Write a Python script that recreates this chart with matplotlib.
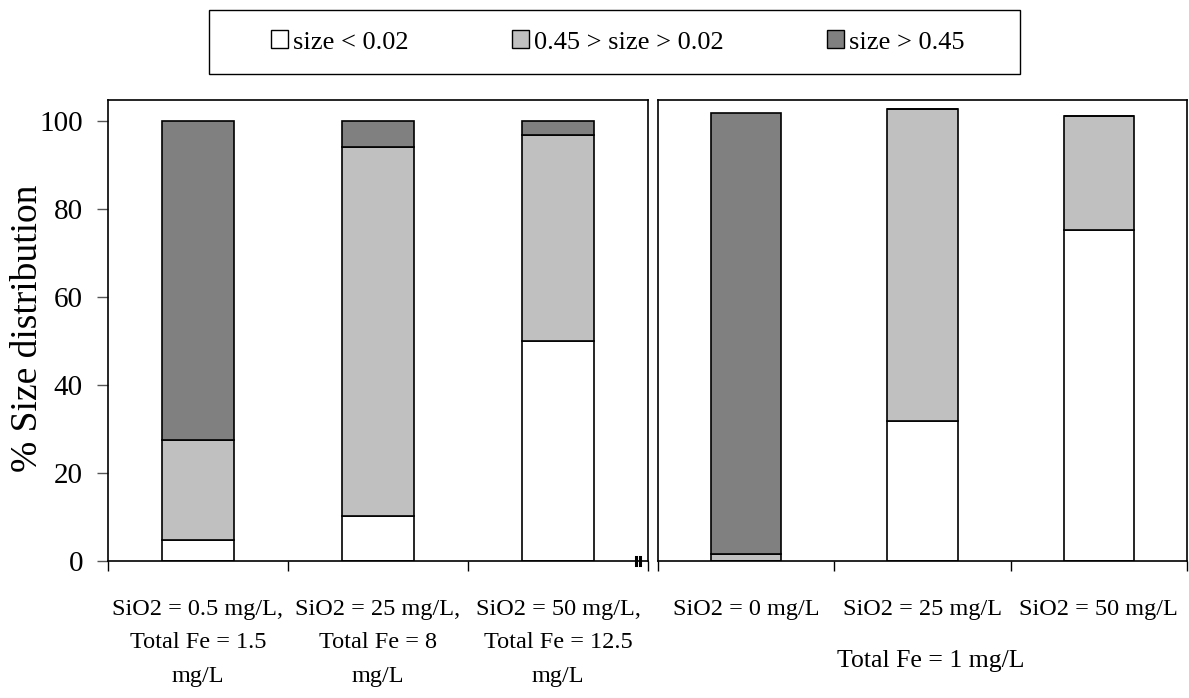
import matplotlib
matplotlib.use("Agg")
import matplotlib.pyplot as plt
from matplotlib.patches import Patch, Rectangle

plt.rcParams['font.family'] = ['Liberation Serif', 'DejaVu Serif']

# left panel: SiO2 and Fe vary together
left_labels = ['SiO2 = 0.5 mg/L,\nTotal Fe = 1.5\nmg/L',
               'SiO2 = 25 mg/L,\nTotal Fe = 8\nmg/L',
               'SiO2 = 50 mg/L,\nTotal Fe = 12.5\nmg/L']
left_fine = [4.8, 10.2, 50.1]      # size < 0.02
left_mid = [22.8, 83.9, 46.9]      # 0.45 > size > 0.02
left_coarse = [72.4, 5.9, 3.0]     # size > 0.45

# right panel: Total Fe = 1 mg/L
right_labels = ['SiO2 = 0 mg/L', 'SiO2 = 25 mg/L', 'SiO2 = 50 mg/L']
right_fine = [0.0, 31.9, 75.4]
right_mid = [1.6, 71.0, 25.8]
right_coarse = [100.4, 0.0, 0.0]

legend_names = ['size < 0.02', '0.45 > size > 0.02', 'size > 0.45']
colors = ['#FFFFFF', '#C0C0C0', '#808080']

W, H = 1189, 698
fig = plt.figure(figsize=(W / 100, H / 100), dpi=100)

ax1 = fig.add_axes([108 / W, 137 / H, 540 / W, 461.5 / H])
ax2 = fig.add_axes([658 / W, 137 / H, 529 / W, 461.5 / H])


def draw_stack(ax, labels, fine, mid, coarse):
    x = range(len(labels))
    bottom = [0] * len(labels)
    for vals, c in zip([fine, mid, coarse], colors):
        ax.bar(x, vals, width=0.4, bottom=bottom, color=c,
               edgecolor='black', linewidth=1.2, zorder=2)
        bottom = [b + v for b, v in zip(bottom, vals)]
    ax.set_xlim(-0.5, len(labels) - 0.5)
    ax.set_ylim(0, 105)
    # tick marks at category borders, labels at centers
    ax.set_xticks([i - 0.5 for i in range(len(labels) + 1)])
    ax.set_xticklabels([])
    ax.set_xticks(list(x), minor=True)
    ax.set_xticklabels(labels, minor=True, fontsize=17.5, linespacing=1.8)
    ax.tick_params(axis='x', which='major', direction='out', length=7,
                   width=1, color='black')
    ax.tick_params(axis='x', which='minor', length=0, pad=27)
    for s in ax.spines.values():
        s.set_linewidth(1.2)
        s.set_color('black')


draw_stack(ax1, left_labels, left_fine, left_mid, left_coarse)
draw_stack(ax2, right_labels, right_fine, right_mid, right_coarse)

ax1.set_yticks([0, 20, 40, 60, 80, 100])
ax1.tick_params(axis='y', direction='out', length=8, width=1,
                color='#555555', labelsize=21, pad=10)
ax2.set_yticks([])

# small axis-break marks at the end of the left panel
for xf in [0.978, 0.986]:
    ax1.plot([xf, xf], [-0.008, 0.008], transform=ax1.transAxes,
             color='black', linewidth=2.2, clip_on=False)

fig.text(28 / W, 1 - 328 / H, '% Size distribution', rotation=90,
         ha='center', va='center', fontsize=27)
fig.text(931 / W, 1 - 661 / H, 'Total Fe = 1 mg/L',
         ha='center', va='center', fontsize=18.5)

# legend frame and entries
fig.patches.append(Rectangle((209 / W, 1 - 74 / H), 811 / W, 64 / H,
                             transform=fig.transFigure, fill=False,
                             edgecolor='black', linewidth=1))
handles = [Patch(facecolor=c, edgecolor='black', linewidth=1) for c in colors]
fig.legend(handles, legend_names, loc='center', ncol=3,
           bbox_to_anchor=(618 / W, 1 - 42 / H), frameon=False,
           fontsize=19, handlelength=0.65, handleheight=0.65,
           handletextpad=0.2, columnspacing=3.9)

fig.savefig('out.png', dpi=100)
